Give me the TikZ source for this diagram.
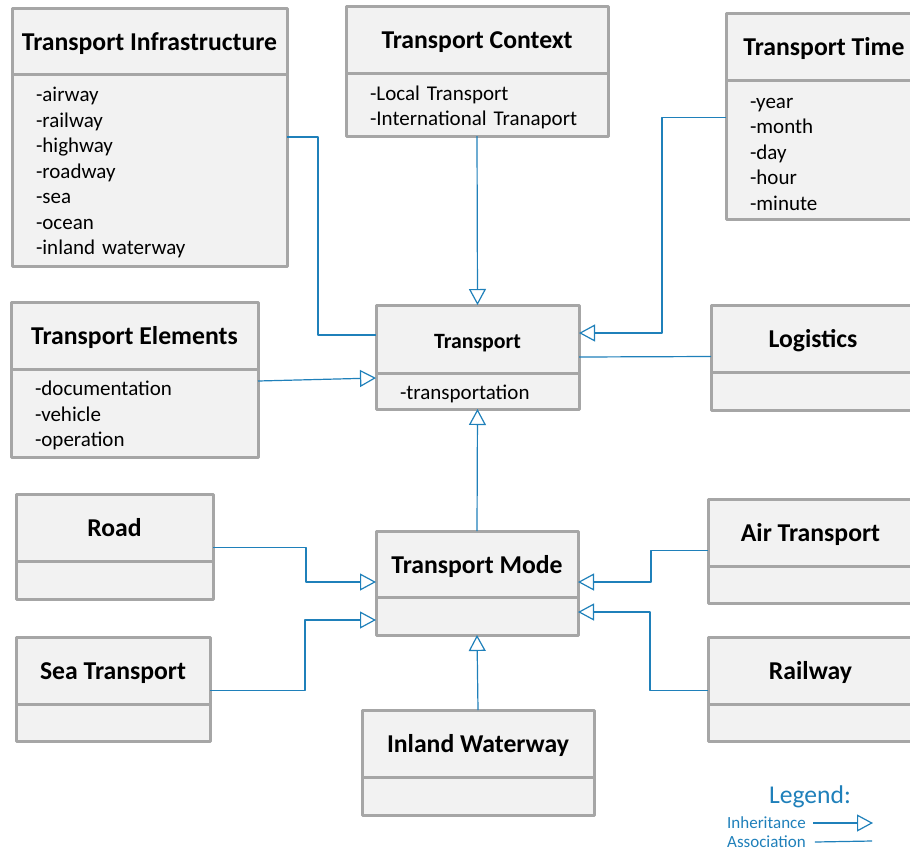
\documentclass[tikz,border=0pt]{standalone}
\usepackage{fontspec}
\setmainfont{Carlito}
\usetikzlibrary{arrows.meta}
\definecolor{boxgray}{RGB}{166,166,166}
\definecolor{boxfill}{RGB}{242,242,242}
\definecolor{linkblue}{RGB}{31,128,186}
\begin{document}
\begin{tikzpicture}[x=1pt, y=-1pt, line join=round,
	head/.style={draw=boxgray, fill=boxfill, line width=3pt, outer sep=0pt, anchor=north west, inner sep=0pt, text height=20pt, text depth=2pt, font=\fontsize{25.7}{30}\selectfont\bfseries},
	body/.style={draw=boxgray, fill=boxfill, line width=3pt, outer sep=0pt, anchor=north west, inner ysep=0pt, inner xsep=24pt, align=left, execute at begin node={\rule{0pt}{20pt}}, font=\fontsize{21}{25.5}\selectfont},
	assoc/.style={draw=linkblue, line width=1.2pt},
	inherit/.style={assoc, -{Triangle[open, length=16pt, width=17pt]}},
	legendtext/.style={text=linkblue, anchor=west, inner sep=0pt, font=\fontsize{17}{20}\selectfont}]
	\useasboundingbox (0,0) rectangle (910,852);
	\clip (0,0) rectangle (910,852);
	% top row
	\node[head, minimum width=275pt, minimum height=66pt] (infra) at (12,8) {Transport Infrastructure};
	\node[body, text width=227pt, minimum height=192pt] (infra-b) at (infra.south west) {-airway\\-railway\\-highway\\-roadway\\-sea\\-ocean\\-inland waterway};
	\node[head, minimum width=262pt, minimum height=67pt] (ctx) at (346,6) {Transport Context};
	\node[body, text width=214pt, minimum height=63pt] (ctx-b) at (ctx.south west) {-Local Transport\\-International Tranaport};
	\node[head, minimum width=196pt, minimum height=67pt] (time) at (726,13) {Transport Time};
	\node[body, text width=148pt, minimum height=139pt] (time-b) at (time.south west) {-year\\-month\\-day\\-hour\\-minute};
	% middle row
	\node[head, minimum width=247pt, minimum height=67pt] (elem) at (11,302) {Transport Elements};
	\node[body, text width=199pt, minimum height=88pt] (elem-b) at (elem.south west) {-documentation\\-vehicle\\-operation};
	\node[head, minimum width=203pt, minimum height=68pt, font=\fontsize{21.8}{26}\selectfont\bfseries] (trans) at (376,305) {Transport};
	\node[body, text width=155pt, minimum height=36pt] (trans-b) at (trans.south west) {-transportation};
	\node[head, minimum width=204pt, minimum height=67pt] (logi) at (711,305) {Logistics};
	\node[body, minimum width=204pt, minimum height=38pt] (logi-b) at (logi.south west) {};
	% modes
	\node[head, minimum width=197pt, minimum height=67pt] (road) at (16,494) {Road};
	\node[body, minimum width=197pt, minimum height=38pt] (road-b) at (road.south west) {};
	\node[head, minimum width=202pt, minimum height=66pt] (mode) at (376,531) {Transport Mode};
	\node[body, minimum width=202pt, minimum height=38pt] (mode-b) at (mode.south west) {};
	\node[head, minimum width=205pt, minimum height=67pt] (air) at (708,499) {Air Transport};
	\node[body, minimum width=205pt, minimum height=37pt] (air-b) at (air.south west) {};
	\node[head, minimum width=194pt, minimum height=67pt] (sea) at (16,637) {Sea Transport};
	\node[body, minimum width=194pt, minimum height=37pt] (sea-b) at (sea.south west) {};
	\node[head, minimum width=205pt, minimum height=67pt] (rail) at (708,637) {Railway};
	\node[body, minimum width=205pt, minimum height=37pt] (rail-b) at (rail.south west) {};
	\node[head, minimum width=232pt, minimum height=67pt] (inland) at (362,710) {Inland Waterway};
	\node[body, minimum width=232pt, minimum height=38pt] (inland-b) at (inland.south west) {};
	% links to Transport
	\draw[assoc] ([yshift=33pt]infra-b.east) -- ++(31,0) |- ([yshift=4pt]trans.west);
	\draw[inherit] (ctx-b.south) -- (trans.north);
	\draw[inherit] ([yshift=32pt]time-b.west) -- ++(-64,0) |- ([yshift=6pt]trans.east);
	\draw[assoc] ([yshift=-18pt]logi.west) -- ([yshift=-18pt]trans.east);
	\draw[inherit] ([yshift=32pt]elem-b.east) -- ([yshift=13pt]trans-b.west);
	\draw[inherit] (mode.north) -- (trans-b.south);
	% links to Transport Mode
	\draw[inherit] ([yshift=-20pt]road.east) -- ++(93,0) |- ([yshift=-18pt]mode.west);
	\draw[inherit] ([yshift=-20pt]sea.east) -- ++(95,0) |- ([yshift=-4pt]mode-b.west);
	\draw[inherit] ([yshift=-18pt]air.west) -- ++(-57,0) |- ([yshift=-18pt]mode.east);
	\draw[inherit] ([yshift=-20pt]rail.west) -- ++(-58,0) |- ([yshift=4pt]mode-b.east);
	\draw[inherit] (inland.north) -- (mode-b.south);
	% legend
	\node[text=linkblue, font=\fontsize{25.6}{30}\selectfont] (legend) at (810,797) {Legend:};
	\node[legendtext] (inh) at (727,823) {Inheritance};
	\node[legendtext] (asc) at (727,842) {Association};
	\coordinate (inh-end) at (873,823);
	\coordinate (asc-end) at (872,841);
	\draw[inherit] ([xshift=7pt]inh.east) -- (inh-end);
	\draw[assoc] ([xshift=9pt]asc.east) -- (asc-end);
\end{tikzpicture}
\end{document}
